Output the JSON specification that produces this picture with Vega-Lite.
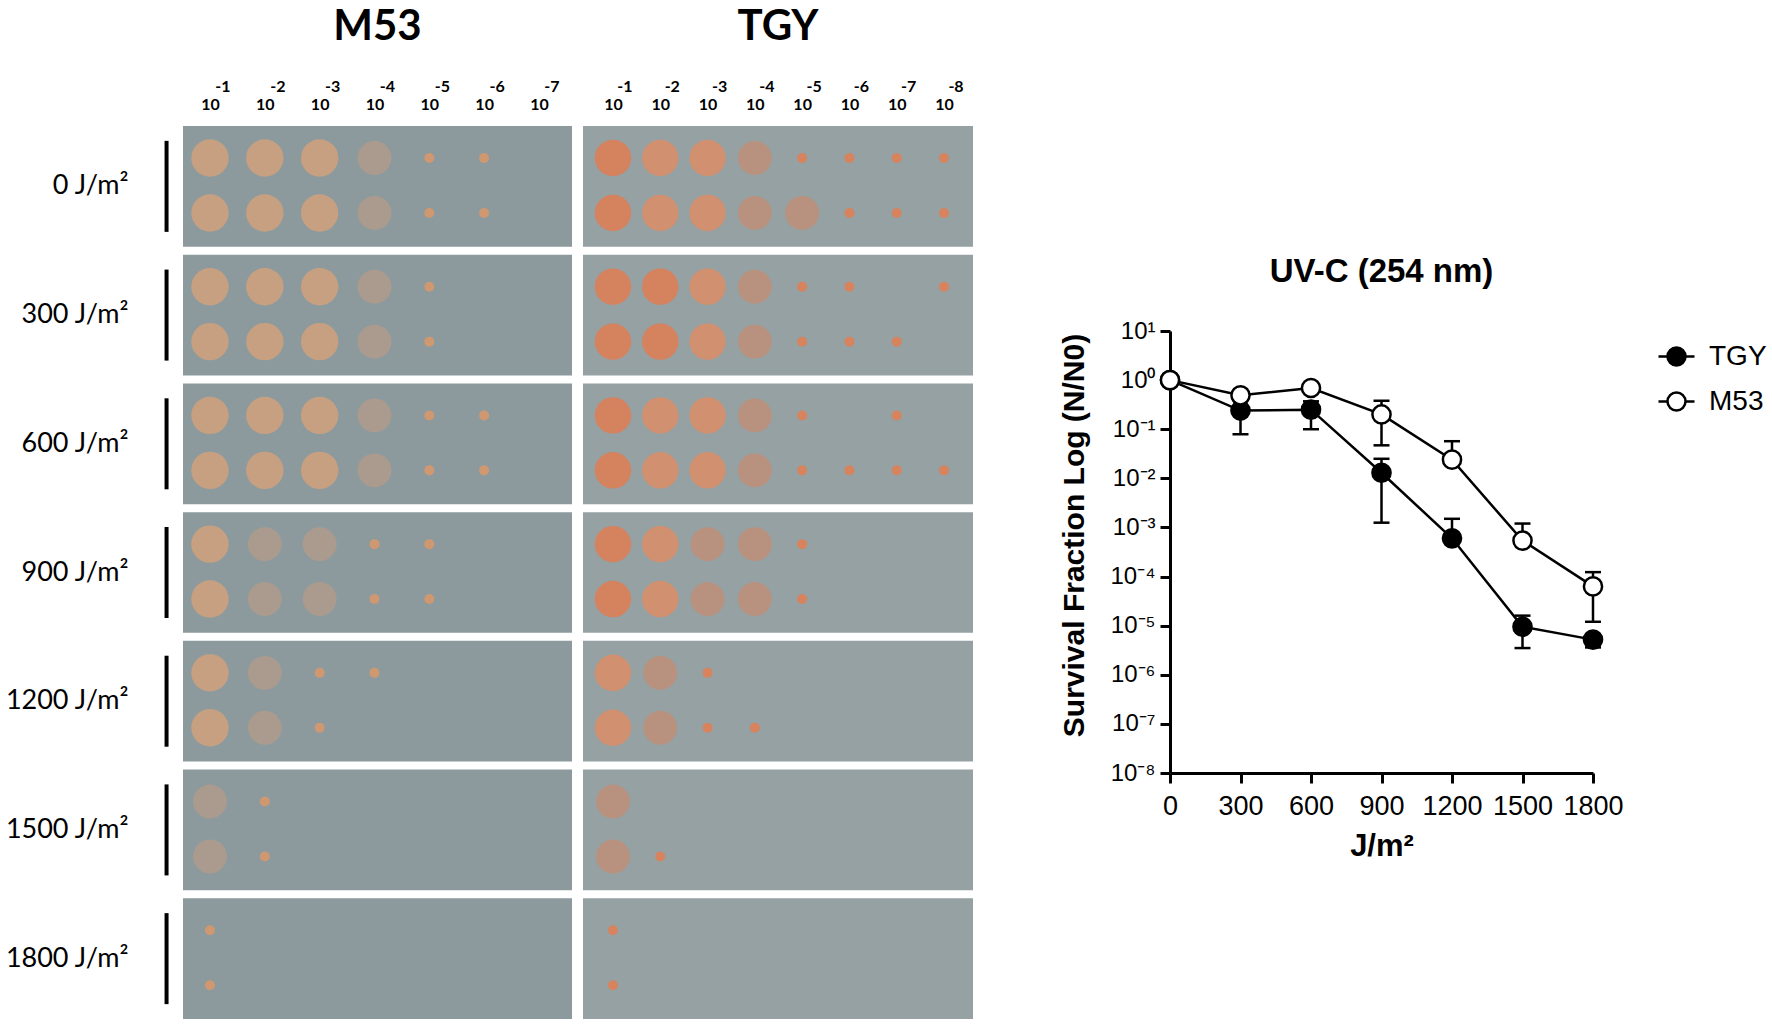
{
  "$schema": "https://vega.github.io/schema/vega-lite/v6.json",
  "background": "white",
  "padding": {"left": 4, "top": 6, "right": 0, "bottom": 0},
  "config": {"view": {"stroke": null}},
  "datasets": {
    "plates": [
      {"strain": "M53", "dose": 0}, {"strain": "M53", "dose": 300}, {"strain": "M53", "dose": 600},
      {"strain": "M53", "dose": 900}, {"strain": "M53", "dose": 1200}, {"strain": "M53", "dose": 1500},
      {"strain": "M53", "dose": 1800},
      {"strain": "TGY", "dose": 0}, {"strain": "TGY", "dose": 300}, {"strain": "TGY", "dose": 600},
      {"strain": "TGY", "dose": 900}, {"strain": "TGY", "dose": 1200}, {"strain": "TGY", "dose": 1500},
      {"strain": "TGY", "dose": 1800}
    ],
    "dilutions": [
      {"strain": "M53", "dil": 1, "exp": "-1"}, {"strain": "M53", "dil": 2, "exp": "-2"},
      {"strain": "M53", "dil": 3, "exp": "-3"}, {"strain": "M53", "dil": 4, "exp": "-4"},
      {"strain": "M53", "dil": 5, "exp": "-5"}, {"strain": "M53", "dil": 6, "exp": "-6"},
      {"strain": "M53", "dil": 7, "exp": "-7"},
      {"strain": "TGY", "dil": 1, "exp": "-1"}, {"strain": "TGY", "dil": 2, "exp": "-2"},
      {"strain": "TGY", "dil": 3, "exp": "-3"}, {"strain": "TGY", "dil": 4, "exp": "-4"},
      {"strain": "TGY", "dil": 5, "exp": "-5"}, {"strain": "TGY", "dil": 6, "exp": "-6"},
      {"strain": "TGY", "dil": 7, "exp": "-7"}, {"strain": "TGY", "dil": 8, "exp": "-8"}
    ],
    "spots": [
      {"strain": "M53", "dose": 0, "rep": 1, "dil": 1, "growth": 3},
      {"strain": "M53", "dose": 0, "rep": 1, "dil": 2, "growth": 3},
      {"strain": "M53", "dose": 0, "rep": 1, "dil": 3, "growth": 3},
      {"strain": "M53", "dose": 0, "rep": 1, "dil": 4, "growth": 2},
      {"strain": "M53", "dose": 0, "rep": 1, "dil": 5, "growth": 1},
      {"strain": "M53", "dose": 0, "rep": 1, "dil": 6, "growth": 1},
      {"strain": "M53", "dose": 0, "rep": 2, "dil": 1, "growth": 3},
      {"strain": "M53", "dose": 0, "rep": 2, "dil": 2, "growth": 3},
      {"strain": "M53", "dose": 0, "rep": 2, "dil": 3, "growth": 3},
      {"strain": "M53", "dose": 0, "rep": 2, "dil": 4, "growth": 2},
      {"strain": "M53", "dose": 0, "rep": 2, "dil": 5, "growth": 1},
      {"strain": "M53", "dose": 0, "rep": 2, "dil": 6, "growth": 1},
      {"strain": "M53", "dose": 300, "rep": 1, "dil": 1, "growth": 3},
      {"strain": "M53", "dose": 300, "rep": 1, "dil": 2, "growth": 3},
      {"strain": "M53", "dose": 300, "rep": 1, "dil": 3, "growth": 3},
      {"strain": "M53", "dose": 300, "rep": 1, "dil": 4, "growth": 2},
      {"strain": "M53", "dose": 300, "rep": 1, "dil": 5, "growth": 1},
      {"strain": "M53", "dose": 300, "rep": 2, "dil": 1, "growth": 3},
      {"strain": "M53", "dose": 300, "rep": 2, "dil": 2, "growth": 3},
      {"strain": "M53", "dose": 300, "rep": 2, "dil": 3, "growth": 3},
      {"strain": "M53", "dose": 300, "rep": 2, "dil": 4, "growth": 2},
      {"strain": "M53", "dose": 300, "rep": 2, "dil": 5, "growth": 1},
      {"strain": "M53", "dose": 600, "rep": 1, "dil": 1, "growth": 3},
      {"strain": "M53", "dose": 600, "rep": 1, "dil": 2, "growth": 3},
      {"strain": "M53", "dose": 600, "rep": 1, "dil": 3, "growth": 3},
      {"strain": "M53", "dose": 600, "rep": 1, "dil": 4, "growth": 2},
      {"strain": "M53", "dose": 600, "rep": 1, "dil": 5, "growth": 1},
      {"strain": "M53", "dose": 600, "rep": 1, "dil": 6, "growth": 1},
      {"strain": "M53", "dose": 600, "rep": 2, "dil": 1, "growth": 3},
      {"strain": "M53", "dose": 600, "rep": 2, "dil": 2, "growth": 3},
      {"strain": "M53", "dose": 600, "rep": 2, "dil": 3, "growth": 3},
      {"strain": "M53", "dose": 600, "rep": 2, "dil": 4, "growth": 2},
      {"strain": "M53", "dose": 600, "rep": 2, "dil": 5, "growth": 1},
      {"strain": "M53", "dose": 600, "rep": 2, "dil": 6, "growth": 1},
      {"strain": "M53", "dose": 900, "rep": 1, "dil": 1, "growth": 3},
      {"strain": "M53", "dose": 900, "rep": 1, "dil": 2, "growth": 2},
      {"strain": "M53", "dose": 900, "rep": 1, "dil": 3, "growth": 2},
      {"strain": "M53", "dose": 900, "rep": 1, "dil": 4, "growth": 1},
      {"strain": "M53", "dose": 900, "rep": 1, "dil": 5, "growth": 1},
      {"strain": "M53", "dose": 900, "rep": 2, "dil": 1, "growth": 3},
      {"strain": "M53", "dose": 900, "rep": 2, "dil": 2, "growth": 2},
      {"strain": "M53", "dose": 900, "rep": 2, "dil": 3, "growth": 2},
      {"strain": "M53", "dose": 900, "rep": 2, "dil": 4, "growth": 1},
      {"strain": "M53", "dose": 900, "rep": 2, "dil": 5, "growth": 1},
      {"strain": "M53", "dose": 1200, "rep": 1, "dil": 1, "growth": 3},
      {"strain": "M53", "dose": 1200, "rep": 1, "dil": 2, "growth": 2},
      {"strain": "M53", "dose": 1200, "rep": 1, "dil": 3, "growth": 1},
      {"strain": "M53", "dose": 1200, "rep": 1, "dil": 4, "growth": 1},
      {"strain": "M53", "dose": 1200, "rep": 2, "dil": 1, "growth": 3},
      {"strain": "M53", "dose": 1200, "rep": 2, "dil": 2, "growth": 2},
      {"strain": "M53", "dose": 1200, "rep": 2, "dil": 3, "growth": 1},
      {"strain": "M53", "dose": 1500, "rep": 1, "dil": 1, "growth": 2},
      {"strain": "M53", "dose": 1500, "rep": 1, "dil": 2, "growth": 1},
      {"strain": "M53", "dose": 1500, "rep": 2, "dil": 1, "growth": 2},
      {"strain": "M53", "dose": 1500, "rep": 2, "dil": 2, "growth": 1},
      {"strain": "M53", "dose": 1800, "rep": 1, "dil": 1, "growth": 1},
      {"strain": "M53", "dose": 1800, "rep": 2, "dil": 1, "growth": 1},
      {"strain": "TGY", "dose": 0, "rep": 1, "dil": 1, "growth": 4},
      {"strain": "TGY", "dose": 0, "rep": 1, "dil": 2, "growth": 3},
      {"strain": "TGY", "dose": 0, "rep": 1, "dil": 3, "growth": 3},
      {"strain": "TGY", "dose": 0, "rep": 1, "dil": 4, "growth": 2},
      {"strain": "TGY", "dose": 0, "rep": 1, "dil": 5, "growth": 1},
      {"strain": "TGY", "dose": 0, "rep": 1, "dil": 6, "growth": 1},
      {"strain": "TGY", "dose": 0, "rep": 1, "dil": 7, "growth": 1},
      {"strain": "TGY", "dose": 0, "rep": 1, "dil": 8, "growth": 1},
      {"strain": "TGY", "dose": 0, "rep": 2, "dil": 1, "growth": 4},
      {"strain": "TGY", "dose": 0, "rep": 2, "dil": 2, "growth": 3},
      {"strain": "TGY", "dose": 0, "rep": 2, "dil": 3, "growth": 3},
      {"strain": "TGY", "dose": 0, "rep": 2, "dil": 4, "growth": 2},
      {"strain": "TGY", "dose": 0, "rep": 2, "dil": 5, "growth": 2},
      {"strain": "TGY", "dose": 0, "rep": 2, "dil": 6, "growth": 1},
      {"strain": "TGY", "dose": 0, "rep": 2, "dil": 7, "growth": 1},
      {"strain": "TGY", "dose": 0, "rep": 2, "dil": 8, "growth": 1},
      {"strain": "TGY", "dose": 300, "rep": 1, "dil": 1, "growth": 4},
      {"strain": "TGY", "dose": 300, "rep": 1, "dil": 2, "growth": 4},
      {"strain": "TGY", "dose": 300, "rep": 1, "dil": 3, "growth": 3},
      {"strain": "TGY", "dose": 300, "rep": 1, "dil": 4, "growth": 2},
      {"strain": "TGY", "dose": 300, "rep": 1, "dil": 5, "growth": 1},
      {"strain": "TGY", "dose": 300, "rep": 1, "dil": 6, "growth": 1},
      {"strain": "TGY", "dose": 300, "rep": 1, "dil": 8, "growth": 1},
      {"strain": "TGY", "dose": 300, "rep": 2, "dil": 1, "growth": 4},
      {"strain": "TGY", "dose": 300, "rep": 2, "dil": 2, "growth": 4},
      {"strain": "TGY", "dose": 300, "rep": 2, "dil": 3, "growth": 3},
      {"strain": "TGY", "dose": 300, "rep": 2, "dil": 4, "growth": 2},
      {"strain": "TGY", "dose": 300, "rep": 2, "dil": 5, "growth": 1},
      {"strain": "TGY", "dose": 300, "rep": 2, "dil": 6, "growth": 1},
      {"strain": "TGY", "dose": 300, "rep": 2, "dil": 7, "growth": 1},
      {"strain": "TGY", "dose": 600, "rep": 1, "dil": 1, "growth": 4},
      {"strain": "TGY", "dose": 600, "rep": 1, "dil": 2, "growth": 3},
      {"strain": "TGY", "dose": 600, "rep": 1, "dil": 3, "growth": 3},
      {"strain": "TGY", "dose": 600, "rep": 1, "dil": 4, "growth": 2},
      {"strain": "TGY", "dose": 600, "rep": 1, "dil": 5, "growth": 1},
      {"strain": "TGY", "dose": 600, "rep": 1, "dil": 7, "growth": 1},
      {"strain": "TGY", "dose": 600, "rep": 2, "dil": 1, "growth": 4},
      {"strain": "TGY", "dose": 600, "rep": 2, "dil": 2, "growth": 3},
      {"strain": "TGY", "dose": 600, "rep": 2, "dil": 3, "growth": 3},
      {"strain": "TGY", "dose": 600, "rep": 2, "dil": 4, "growth": 2},
      {"strain": "TGY", "dose": 600, "rep": 2, "dil": 5, "growth": 1},
      {"strain": "TGY", "dose": 600, "rep": 2, "dil": 6, "growth": 1},
      {"strain": "TGY", "dose": 600, "rep": 2, "dil": 7, "growth": 1},
      {"strain": "TGY", "dose": 600, "rep": 2, "dil": 8, "growth": 1},
      {"strain": "TGY", "dose": 900, "rep": 1, "dil": 1, "growth": 4},
      {"strain": "TGY", "dose": 900, "rep": 1, "dil": 2, "growth": 3},
      {"strain": "TGY", "dose": 900, "rep": 1, "dil": 3, "growth": 2},
      {"strain": "TGY", "dose": 900, "rep": 1, "dil": 4, "growth": 2},
      {"strain": "TGY", "dose": 900, "rep": 1, "dil": 5, "growth": 1},
      {"strain": "TGY", "dose": 900, "rep": 2, "dil": 1, "growth": 4},
      {"strain": "TGY", "dose": 900, "rep": 2, "dil": 2, "growth": 3},
      {"strain": "TGY", "dose": 900, "rep": 2, "dil": 3, "growth": 2},
      {"strain": "TGY", "dose": 900, "rep": 2, "dil": 4, "growth": 2},
      {"strain": "TGY", "dose": 900, "rep": 2, "dil": 5, "growth": 1},
      {"strain": "TGY", "dose": 1200, "rep": 1, "dil": 1, "growth": 3},
      {"strain": "TGY", "dose": 1200, "rep": 1, "dil": 2, "growth": 2},
      {"strain": "TGY", "dose": 1200, "rep": 1, "dil": 3, "growth": 1},
      {"strain": "TGY", "dose": 1200, "rep": 2, "dil": 1, "growth": 3},
      {"strain": "TGY", "dose": 1200, "rep": 2, "dil": 2, "growth": 2},
      {"strain": "TGY", "dose": 1200, "rep": 2, "dil": 3, "growth": 1},
      {"strain": "TGY", "dose": 1200, "rep": 2, "dil": 4, "growth": 1},
      {"strain": "TGY", "dose": 1500, "rep": 1, "dil": 1, "growth": 2},
      {"strain": "TGY", "dose": 1500, "rep": 2, "dil": 1, "growth": 2},
      {"strain": "TGY", "dose": 1500, "rep": 2, "dil": 2, "growth": 1},
      {"strain": "TGY", "dose": 1800, "rep": 1, "dil": 1, "growth": 1},
      {"strain": "TGY", "dose": 1800, "rep": 2, "dil": 1, "growth": 1}
    ],
    "survival": [
      {"strain": "TGY", "dose": 0, "mean": 1, "lo": 1, "hi": 1},
      {"strain": "TGY", "dose": 300, "mean": 0.24, "lo": 0.079, "hi": 0.39},
      {"strain": "TGY", "dose": 600, "mean": 0.25, "lo": 0.1, "hi": 0.37},
      {"strain": "TGY", "dose": 900, "mean": 0.013, "lo": 0.00125, "hi": 0.025},
      {"strain": "TGY", "dose": 1200, "mean": 0.0006, "lo": 0.0006, "hi": 0.0015},
      {"strain": "TGY", "dose": 1500, "mean": 9.5e-6, "lo": 3.5e-6, "hi": 1.6e-5},
      {"strain": "TGY", "dose": 1800, "mean": 5.2e-6, "lo": 3.6e-6, "hi": 5.2e-6},
      {"strain": "M53", "dose": 0, "mean": 1, "lo": 1, "hi": 1},
      {"strain": "M53", "dose": 300, "mean": 0.49, "lo": 0.49, "hi": 0.49},
      {"strain": "M53", "dose": 600, "mean": 0.69, "lo": 0.69, "hi": 0.69},
      {"strain": "M53", "dose": 900, "mean": 0.2, "lo": 0.047, "hi": 0.38},
      {"strain": "M53", "dose": 1200, "mean": 0.024, "lo": 0.024, "hi": 0.057},
      {"strain": "M53", "dose": 1500, "mean": 0.00054, "lo": 0.00054, "hi": 0.0012},
      {"strain": "M53", "dose": 1800, "mean": 6.3e-5, "lo": 1.2e-5, "hi": 1.23e-4}
    ]
  },
  "spacing": 86,
  "resolve": {"scale": {"fill": "independent"}, "legend": {"fill": "independent"}},
  "hconcat": [
    {
      "spacing": 11,
      "resolve": {"scale": {"color": "independent", "size": "independent"}},
      "hconcat": [
        {
          "width": 389,
          "height": 893,
          "title": {"text": "M53", "font": "Lato", "fontSize": 42, "fontWeight": "bold", "color": "black", "anchor": "middle", "frame": "group", "offset": 30},
          "encoding": {
            "y": {
              "field": "dose", "type": "ordinal",
              "scale": {"type": "band", "paddingInner": 0.062, "paddingOuter": 0},
              "axis": {"title": null, "ticks": false, "tickSize": 0, "domain": false, "labelPadding": 55, "labelFont": "Lato", "labelFontSize": 27, "labelColor": "black", "labelExpr": "datum.value + ' J/m²'"}
            }
          },
          "layer": [
            {
              "data": {"name": "plates"},
              "transform": [{"filter": "datum.strain === 'M53'"}],
              "mark": {"type": "rect", "color": "#8c9a9e", "opacity": 1}
            },
            {
              "data": {"name": "plates"},
              "transform": [{"filter": "datum.strain === 'M53'"}],
              "mark": {"type": "tick", "orient": "vertical", "size": 91, "thickness": 4, "color": "black", "opacity": 1},
              "encoding": {"x": {"datum": 0.208}}
            },
            {
              "data": {"name": "dilutions"},
              "transform": [{"filter": "datum.strain === 'M53'"}],
              "mark": {"type": "text", "font": "Lato", "fontSize": 16, "fontWeight": "bold", "color": "black", "baseline": "middle", "dx": 13, "dy": -39},
              "encoding": {
                "x": {
                  "field": "dil", "type": "quantitative",
                  "scale": {"domain": [0.508, 7.602], "nice": false, "zero": false},
                  "axis": {"orient": "top", "values": [1, 2, 3, 4, 5, 6, 7], "title": null, "grid": false, "ticks": false, "tickSize": 0, "domain": false, "labelFont": "Lato", "labelFontSize": 16, "labelFontWeight": "bold", "labelColor": "black", "labelPadding": 14, "labelExpr": "'10'"}
                },
                "y": {"datum": 0, "type": "ordinal", "bandPosition": 0},
                "text": {"field": "exp"}
              }
            },
            {
              "data": {"name": "spots"},
              "transform": [{"filter": "datum.strain === 'M53' && datum.rep === 1"}],
              "mark": {"type": "circle", "opacity": 1},
              "encoding": {
                "x": {"field": "dil", "type": "quantitative"},
                "y": {"field": "dose", "type": "ordinal", "bandPosition": 0.265},
                "color": {"field": "growth", "type": "ordinal", "scale": {"type": "ordinal", "domain": [1, 2, 3, 4], "range": ["#cf9870", "#aa9b8e", "#c6a080", "#c9a07c"]}, "legend": null},
                "size": {"field": "growth", "type": "ordinal", "scale": {"type": "ordinal", "domain": [1, 2, 3, 4], "range": [100, 1150, 1400, 1400]}, "legend": null}
              }
            },
            {
              "data": {"name": "spots"},
              "transform": [{"filter": "datum.strain === 'M53' && datum.rep === 2"}],
              "mark": {"type": "circle", "opacity": 1},
              "encoding": {
                "x": {"field": "dil", "type": "quantitative"},
                "y": {"field": "dose", "type": "ordinal", "bandPosition": 0.72},
                "color": {"field": "growth", "type": "ordinal", "scale": {"type": "ordinal", "domain": [1, 2, 3, 4], "range": ["#cf9870", "#aa9b8e", "#c6a080", "#c9a07c"]}, "legend": null},
                "size": {"field": "growth", "type": "ordinal", "scale": {"type": "ordinal", "domain": [1, 2, 3, 4], "range": [100, 1150, 1400, 1400]}, "legend": null}
              }
            }
          ]
        },
        {
          "width": 390,
          "height": 893,
          "title": {"text": "TGY", "font": "Lato", "fontSize": 42, "fontWeight": "bold", "color": "black", "anchor": "middle", "frame": "group", "offset": 30},
          "encoding": {
            "y": {"field": "dose", "type": "ordinal", "scale": {"type": "band", "paddingInner": 0.062, "paddingOuter": 0}, "axis": null}
          },
          "layer": [
            {
              "data": {"name": "plates"},
              "transform": [{"filter": "datum.strain === 'TGY'"}],
              "mark": {"type": "rect", "color": "#95a1a3", "opacity": 1}
            },
            {
              "data": {"name": "dilutions"},
              "transform": [{"filter": "datum.strain === 'TGY'"}],
              "mark": {"type": "text", "font": "Lato", "fontSize": 16, "fontWeight": "bold", "color": "black", "baseline": "middle", "dx": 12, "dy": -39},
              "encoding": {
                "x": {
                  "field": "dil", "type": "quantitative",
                  "scale": {"domain": [0.366, 8.613], "nice": false, "zero": false},
                  "axis": {"orient": "top", "values": [1, 2, 3, 4, 5, 6, 7, 8], "title": null, "grid": false, "ticks": false, "tickSize": 0, "domain": false, "labelFont": "Lato", "labelFontSize": 16, "labelFontWeight": "bold", "labelColor": "black", "labelPadding": 14, "labelExpr": "'10'"}
                },
                "y": {"datum": 0, "type": "ordinal", "bandPosition": 0},
                "text": {"field": "exp"}
              }
            },
            {
              "data": {"name": "spots"},
              "transform": [{"filter": "datum.strain === 'TGY' && datum.rep === 1"}],
              "mark": {"type": "circle", "opacity": 1},
              "encoding": {
                "x": {"field": "dil", "type": "quantitative"},
                "y": {"field": "dose", "type": "ordinal", "bandPosition": 0.265},
                "color": {"field": "growth", "type": "ordinal", "scale": {"type": "ordinal", "domain": [1, 2, 3, 4], "range": ["#d7835d", "#b8927f", "#d1906f", "#d5825f"]}, "legend": null},
                "size": {"field": "growth", "type": "ordinal", "scale": {"type": "ordinal", "domain": [1, 2, 3, 4], "range": [100, 1150, 1330, 1330]}, "legend": null}
              }
            },
            {
              "data": {"name": "spots"},
              "transform": [{"filter": "datum.strain === 'TGY' && datum.rep === 2"}],
              "mark": {"type": "circle", "opacity": 1},
              "encoding": {
                "x": {"field": "dil", "type": "quantitative"},
                "y": {"field": "dose", "type": "ordinal", "bandPosition": 0.72},
                "color": {"field": "growth", "type": "ordinal", "scale": {"type": "ordinal", "domain": [1, 2, 3, 4], "range": ["#d7835d", "#b8927f", "#d1906f", "#d5825f"]}, "legend": null},
                "size": {"field": "growth", "type": "ordinal", "scale": {"type": "ordinal", "domain": [1, 2, 3, 4], "range": [100, 1150, 1330, 1330]}, "legend": null}
              }
            }
          ]
        }
      ]
    },
    {
      "spacing": 0,
      "resolve": {"scale": {"fill": "independent"}, "legend": {"fill": "independent"}},
      "vconcat": [
        {
          "width": 10,
          "height": 130,
          "data": {"values": [{}]},
          "mark": {"type": "text", "text": ""},
          "encoding": {}
        },
        {
          "width": 423,
          "height": 442,
          "data": {"name": "survival"},
          "title": {"text": "UV-C (254 nm)", "font": "Liberation Sans", "fontSize": 33, "fontWeight": "bold", "color": "black", "anchor": "middle", "frame": "group", "offset": 30},
          "encoding": {
            "x": {
              "field": "dose", "type": "quantitative",
              "scale": {"domain": [0, 1800], "nice": false, "zero": false},
              "axis": {"values": [0, 300, 600, 900, 1200, 1500, 1800], "format": "d", "grid": false, "tickSize": 10, "tickWidth": 3, "tickColor": "black", "domainWidth": 3, "domainColor": "black", "labelFont": "Liberation Sans", "labelFontSize": 27, "labelColor": "black", "labelPadding": 10, "labelFlush": false, "labelOverlap": false, "title": "J/m²", "titleFont": "Liberation Sans", "titleFontSize": 31, "titleFontWeight": "bold", "titleColor": "black", "titlePadding": 12}
            }
          },
          "layer": [
            {
              "transform": [{"filter": "datum.hi > datum.lo"}],
              "mark": {"type": "rule", "color": "black", "strokeWidth": 2.5},
              "encoding": {
                "y": {
                  "field": "lo", "type": "quantitative",
                  "scale": {"type": "log", "domain": [1e-8, 10], "nice": false},
                  "axis": {"values": [10, 1, 0.1, 0.01, 0.001, 0.0001, 1e-5, 1e-6, 1e-7, 1e-8], "grid": false, "tickSize": 10, "tickWidth": 3, "tickColor": "black", "domainWidth": 3, "domainColor": "black", "labelFont": "Liberation Sans", "labelFontSize": 24, "labelColor": "black", "labelPadding": 5, "labelExpr": "'10' + (datum.value < 1 ? '⁻' : '') + ['⁰','¹','²','³','⁴','⁵','⁶','⁷','⁸'][abs(round(log(datum.value) / LN10))]", "title": "Survival Fraction Log (N/N0)", "titleFont": "Liberation Sans", "titleFontSize": 30, "titleFontWeight": "bold", "titleColor": "black", "titlePadding": 20, "titleY": 204}
                },
                "y2": {"field": "hi"}
              }
            },
            {
              "transform": [{"filter": "datum.hi > datum.mean"}],
              "mark": {"type": "tick", "orient": "horizontal", "size": 16, "thickness": 2.5, "color": "black", "opacity": 1},
              "encoding": {"y": {"field": "hi", "type": "quantitative"}}
            },
            {
              "transform": [{"filter": "datum.lo < datum.mean"}],
              "mark": {"type": "tick", "orient": "horizontal", "size": 16, "thickness": 2.5, "color": "black", "opacity": 1},
              "encoding": {"y": {"field": "lo", "type": "quantitative"}}
            },
            {
              "mark": {"type": "line", "color": "black", "strokeWidth": 2.5},
              "encoding": {
                "y": {"field": "mean", "type": "quantitative"},
                "detail": {"field": "strain", "type": "nominal"}
              }
            },
            {
              "mark": {"type": "point", "shape": "circle", "filled": true, "size": 330, "stroke": "black", "strokeWidth": 2.5, "opacity": 1},
              "encoding": {
                "y": {"field": "mean", "type": "quantitative"},
                "fill": {
                  "field": "strain", "type": "nominal",
                  "scale": {"domain": ["TGY", "M53"], "range": ["black", "white"]},
                  "legend": {"title": null, "orient": "right", "offset": 53, "padding": 6, "symbolType": "M-1,0L-0.5,0M0.5,0L1,0M0.5,0A0.5,0.5,0,1,1,-0.5,0A0.5,0.5,0,1,1,0.5,0Z", "symbolSize": 1296, "symbolStrokeColor": "black", "symbolStrokeWidth": 2.5, "symbolOpacity": 1, "labelFont": "Liberation Sans", "labelFontSize": 28, "labelColor": "black", "labelOffset": 13, "rowPadding": 11}
                }
              }
            }
          ]
        }
      ]
    }
  ]
}
